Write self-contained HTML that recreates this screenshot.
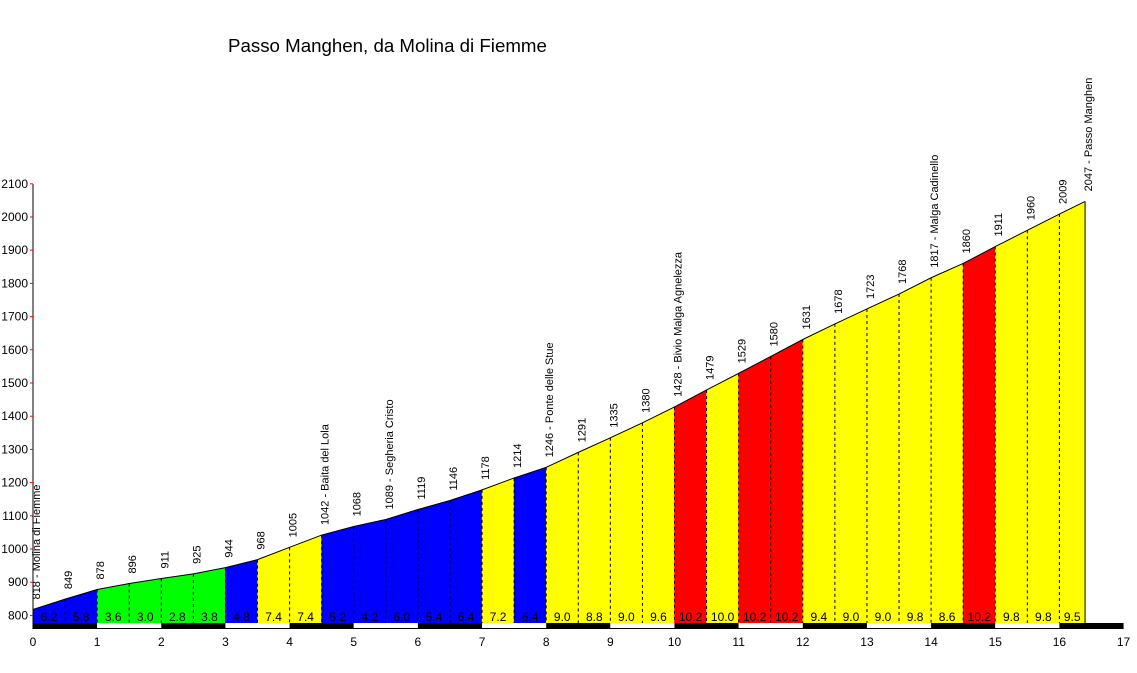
<!DOCTYPE html>
<html><head><meta charset="utf-8"><style>
html,body{margin:0;padding:0;background:#fff;}
svg{display:block;font-family:"Liberation Sans",Arial,sans-serif;}
</style></head><body>
<svg id="s" width="1137" height="673" xmlns="http://www.w3.org/2000/svg">
<text x="228" y="52" font-size="18.7">Passo Manghen, da Molina di Fiemme</text>
</svg>
<script>
var s=document.getElementById('s'),NS='http://www.w3.org/2000/svg';
function el(t,a,txt){var e=document.createElementNS(NS,t);for(var k in a)e.setAttribute(k,a[k]);if(txt!=null)e.textContent=txt;s.appendChild(e);return e;}
function X(k){return 33+k*64.15;}
function Y(h){return 549-(h-1000)*0.332;}
var el_=[818,849,878,896,911,925,944,968,1005,1042,1068,1089,1119,1146,1178,1214,1246,1291,1335,1380,1428,1479,1529,1580,1631,1678,1723,1768,1817,1860,1911,1960,2009,2047];
var km=[];for(var i=0;i<33;i++)km.push(i*0.5);km.push(16.4);
var gr=["6.2","5.8","3.6","3.0","2.8","3.8","4.8","7.4","7.4","5.2","4.2","6.0","5.4","6.4","7.2","6.4","9.0","8.8","9.0","9.6","10.2","10.0","10.2","10.2","9.4","9.0","9.0","9.8","8.6","10.2","9.8","9.8","9.5"];
var names={0:"Molina di Fiemme",9:"Baita del Lola",11:"Segheria Cristo",16:"Ponte delle Stue",20:"Bivio Malga Agnelezza",28:"Malga Cadinello",33:"Passo Manghen"};
var B=623;
for(var i=0;i<33;i++){
 var g=parseFloat(gr[i]);var c=g<=4?'#00ff00':g<7?'#0000ff':g<=10?'#ffff00':'#ff0000';
 var x1=X(km[i]),x2=X(km[i+1]);
 el('polygon',{points:x1+','+B+' '+x1+','+Y(el_[i])+' '+x2+','+Y(el_[i+1])+' '+x2+','+B,fill:c,stroke:c,'stroke-width':0.5});
 el('text',{x:(x1+x2)/2,y:621,'font-size':12,'text-anchor':'middle'},gr[i]);
}
for(var i=1;i<33;i++){el('line',{x1:X(km[i]),x2:X(km[i]),y1:Y(el_[i]),y2:B,stroke:'#000','stroke-dasharray':'3,3'});}
var pts=[];for(var i=0;i<34;i++)pts.push(X(km[i])+','+Y(el_[i]));
el('polyline',{points:pts.join(' '),fill:'none',stroke:'#000','stroke-width':1});
el('line',{x1:X(16.4),x2:X(16.4),y1:Y(2047),y2:B,stroke:'#000'});
for(var i=0;i<34;i++){
 var x=X(km[i])+7,y=Y(el_[i])-10;var t=el_[i]+(names[i]?' - '+names[i]:'');
 el('text',{x:x,y:y,'font-size':11,transform:'rotate(-90 '+x+' '+y+')'},t);
}
for(var k=0;k<17;k++){el('rect',{x:X(k),y:623,width:64.15,height:6,fill:k%2==0?'#000':'#fff'});}
el('line',{x1:33,x2:X(17),y1:628.5,y2:628.5,stroke:'#000'});
for(var k=0;k<=17;k++){el('text',{x:X(k),y:646,'font-size':12,'text-anchor':'middle'},k);}
el('line',{x1:33,x2:33,y1:184,y2:629,stroke:'#000'});
for(var h=800;h<=2100;h+=100){var y=Y(h);el('line',{x1:30,x2:33,y1:y,y2:y,stroke:'#f00'});el('text',{x:28,y:y+4,'font-size':12,'text-anchor':'end'},h);}
</script>
</body></html>
